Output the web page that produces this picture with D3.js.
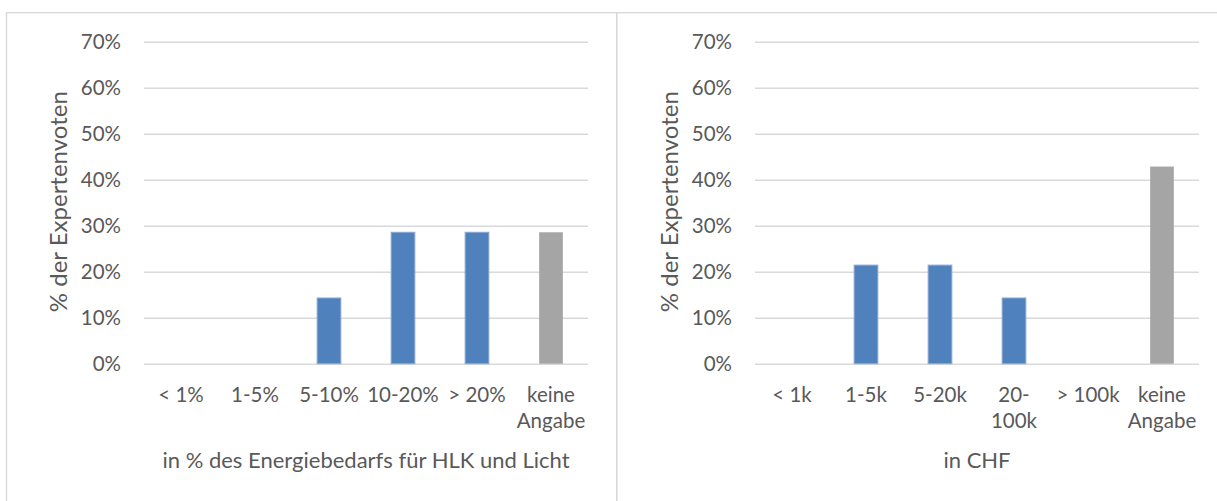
<!DOCTYPE html>
<html>
<head>
<meta charset="utf-8">
<script src="https://cdn.jsdelivr.net/npm/d3@7"></script>
<style>
  html, body { margin: 0; padding: 0; background: #fff; }
  svg { display: block; font-family: Lato, "Open Sans", sans-serif; }
</style>
</head>
<body>
<svg id="chart" width="1217" height="501"></svg>
<script>
// Share of expert votes per answer bucket, two questions side by side
const energyCategories = ["< 1%", "1-5%", "5-10%", "10-20%", "> 20%", "keine\nAngabe"];
const energyShares = [0, 0, 1 / 7, 2 / 7, 2 / 7, 2 / 7];

const costCategories = ["< 1k", "1-5k", "5-20k", "20-\n100k", "> 100k", "keine\nAngabe"];
const costShares = [0, 3 / 14, 3 / 14, 2 / 14, 0, 6 / 14];

const yTickValues = [0, 0.1, 0.2, 0.3, 0.4, 0.5, 0.6, 0.7];
const yAxisTitle = "% der Expertenvoten";
const energyAxisTitle = "in % des Energiebedarfs für HLK und Licht";
const costAxisTitle = "in CHF";
const noAnswer = "keine\nAngabe";

const BLUE = "#4F81BD", GREY = "#A5A5A5", TEXT = "#595959", GRID = "#D9D9D9";

const svg = d3.select("#chart");

// panel frames
svg.append("rect").attr("x", 6.5).attr("y", 12.7).attr("width", 610.2).attr("height", 520)
  .attr("fill", "none").attr("stroke", GRID).attr("stroke-width", 1.4);
svg.append("rect").attr("x", 616.7).attr("y", 12.7).attr("width", 700).attr("height", 520)
  .attr("fill", "none").attr("stroke", GRID).attr("stroke-width", 1.4);

function drawPanel(opts) {
  const { left, right, top, bottom, categories, values, xTitle, yTitleX } = opts;
  const g = svg.append("g");

  const x = d3.scaleBand().domain(categories).range([left, right])
    .paddingInner(0.68).paddingOuter(0.34);
  const y = d3.scaleLinear().domain([0, 0.7]).range([bottom, top]);

  // gridlines and y tick labels
  const yAxis = g.append("g").attr("transform", `translate(${left},0)`)
    .call(d3.axisLeft(y).tickValues(yTickValues).tickFormat(d3.format(".0%"))
      .tickSizeInner(-(right - left)).tickSizeOuter(0).tickPadding(23));
  yAxis.select(".domain").remove();
  yAxis.selectAll(".tick line").attr("stroke", GRID).attr("stroke-width", 1.5);
  yAxis.selectAll(".tick text").attr("fill", TEXT).style("font-size", "20.5px")
    .style("font-family", "Lato, sans-serif");

  // bars
  g.selectAll("rect.bar").data(categories.map((c, i) => ({ c, v: values[i] })))
    .join("rect").attr("class", "bar")
    .attr("x", d => x(d.c))
    .attr("width", x.bandwidth())
    .attr("y", d => y(d.v))
    .attr("height", d => y(0) - y(d.v))
    .attr("fill", d => d.c === noAnswer ? GREY : BLUE)
    .attr("stroke", d => d.c === noAnswer ? "none" : "#8AA8D4")
    .attr("stroke-width", 1)
    .style("display", d => d.v > 0 ? null : "none");

  // category labels (may wrap onto a second line)
  const labels = g.selectAll("text.cat").data(categories).join("text")
    .attr("class", "cat")
    .attr("text-anchor", "middle")
    .attr("fill", TEXT)
    .style("font-size", "20.5px");
  labels.each(function (c) {
    const t = d3.select(this);
    c.split("\n").forEach((line, k) => {
      t.append("tspan").attr("x", x(c) + x.bandwidth() / 2)
        .attr("y", 402 + k * 26).text(line);
    });
  });

  // axis titles
  g.append("text").attr("x", (left + right) / 2).attr("y", 468)
    .attr("text-anchor", "middle").attr("fill", TEXT)
    .style("font-size", "22px").text(xTitle);
  g.append("text")
    .attr("transform", `translate(${yTitleX},${(top + bottom) / 2 - 1}) rotate(-90)`)
    .attr("text-anchor", "middle").attr("dominant-baseline", "central")
    .attr("fill", TEXT).style("font-size", "24px").text(yAxisTitle);
}

drawPanel({ left: 144, right: 588, top: 41.7, bottom: 363.7,
  categories: energyCategories, values: energyShares, xTitle: energyAxisTitle, yTitleX: 57 });
drawPanel({ left: 755, right: 1199, top: 41.7, bottom: 363.7,
  categories: costCategories, values: costShares, xTitle: costAxisTitle, yTitleX: 668 });
</script>
</body>
</html>
